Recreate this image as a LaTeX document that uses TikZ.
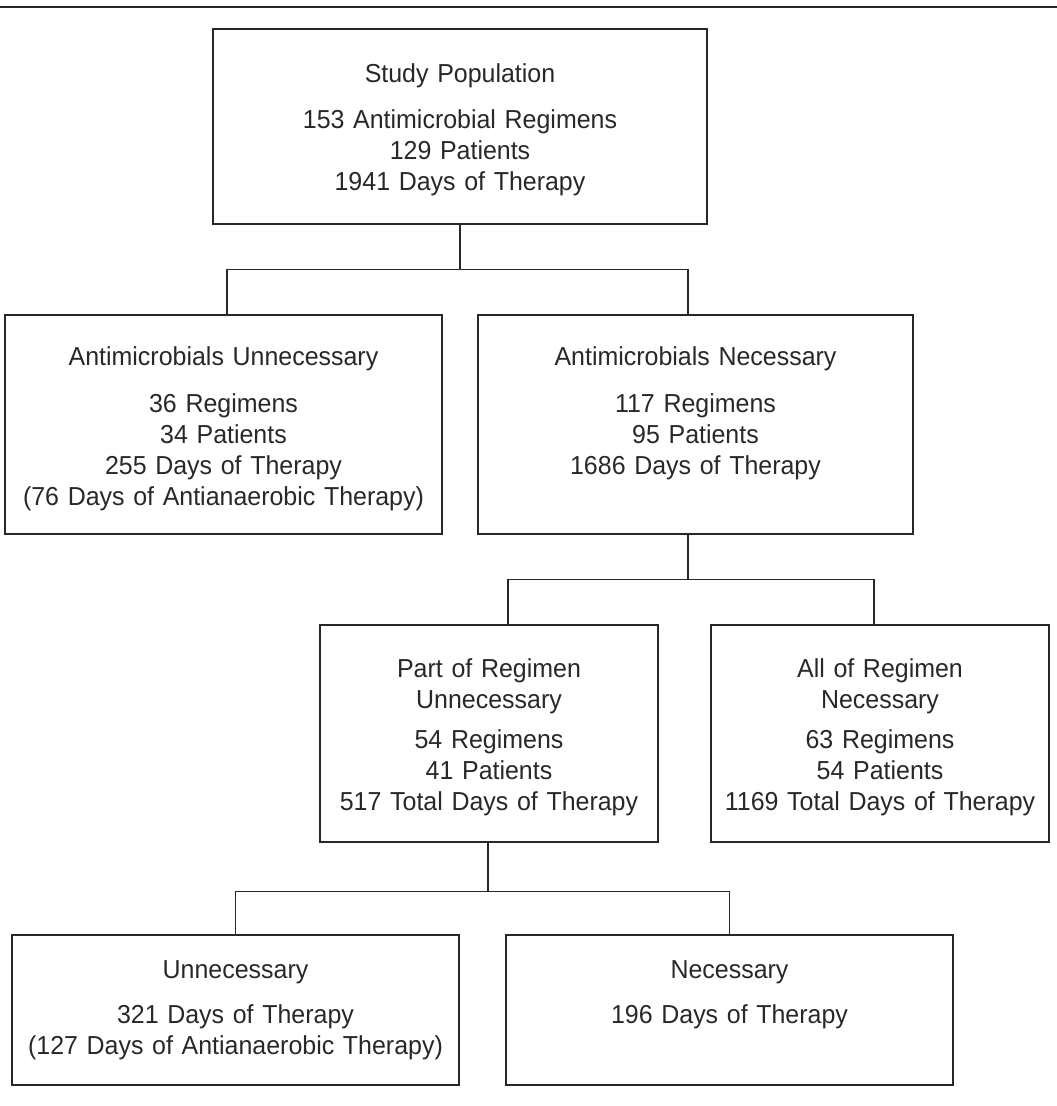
\documentclass[tikz,border=0pt]{standalone}
\usepackage{fontspec}
\setmainfont{Liberation Sans}[FakeStretch=0.96]
\usepackage{xcolor}
\usepackage{tikz}
\definecolor{flowGray}{RGB}{40, 40, 40}
\usetikzlibrary{positioning, calc}

\begin{document}
\begin{tikzpicture}[
    x=1pt, y=1pt,
    font=\fontsize{26}{31}\selectfont,
    stage/.style={rectangle, draw=flowGray, line width=1.2pt, text=flowGray, align=center, inner xsep=0pt, inner ysep=0pt},
    link/.style={flowGray, line width=1.1pt}
]
    \useasboundingbox (0,0) rectangle (1057,-1106);
    \draw[flowGray, line width=2pt] (0,-7) -- (1057,-7);

    \node[stage, text width=494pt, text height=53pt, text depth=142pt] (study) at (460,-126.5) {Study Population\\[15pt]153 Antimicrobial Regimens\\129 Patients\\1941 Days of Therapy};
    \node[stage, text width=437pt, text height=50pt, text depth=169pt] (unnec) at (223.5,-424.5) {Antimicrobials Unnecessary\\[16pt]36 Regimens\\34 Patients\\255 Days of Therapy\\(76 Days of Antianaerobic Therapy)};
    \node[stage, text width=435pt, text height=50pt, text depth=169pt] (necess) at (695.5,-424.5) {Antimicrobials Necessary\\[16pt]117 Regimens\\95 Patients\\1686 Days of Therapy};
    \node[stage, text width=338pt, text height=52pt, text depth=165pt] (part) at (489,-733.5) {Part of Regimen\\Unnecessary\\[9pt]54 Regimens\\41 Patients\\517 Total Days of Therapy};
    \node[stage, text width=338pt, text height=52pt, text depth=165pt] (allreg) at (880,-733.5) {All of Regimen\\Necessary\\[9pt]63 Regimens\\54 Patients\\1169 Total Days of Therapy};
    \node[stage, text width=447pt, text height=43pt, text depth=107pt] (unnday) at (235.5,-1010) {Unnecessary\\[14pt]321 Days of Therapy\\(127 Days of Antianaerobic Therapy)};
    \node[stage, text width=447pt, text height=43pt, text depth=107pt] (necday) at (729.5,-1010) {Necessary\\[14pt]196 Days of Therapy};

    \draw[link] (study.south) -- ++(0,-45) coordinate (splitA);
    \draw[link] (splitA) -| ([xshift=3.5pt]unnec.north);
    \draw[link] (splitA) -| ([xshift=-7.5pt]necess.north);

    \draw[link] ([xshift=-7.5pt]necess.south) -- ++(0,-45) coordinate (splitB);
    \draw[link] (splitB) -| ([xshift=19pt]part.north);
    \draw[link] (splitB) -| ([xshift=-6pt]allreg.north);

    \draw[link] ([xshift=-1pt]part.south) -- ++(0,-49) coordinate (splitC);
    \draw[link] (splitC) -| (unnday.north);
    \draw[link] (splitC) -| (necday.north);
\end{tikzpicture}
\end{document}
